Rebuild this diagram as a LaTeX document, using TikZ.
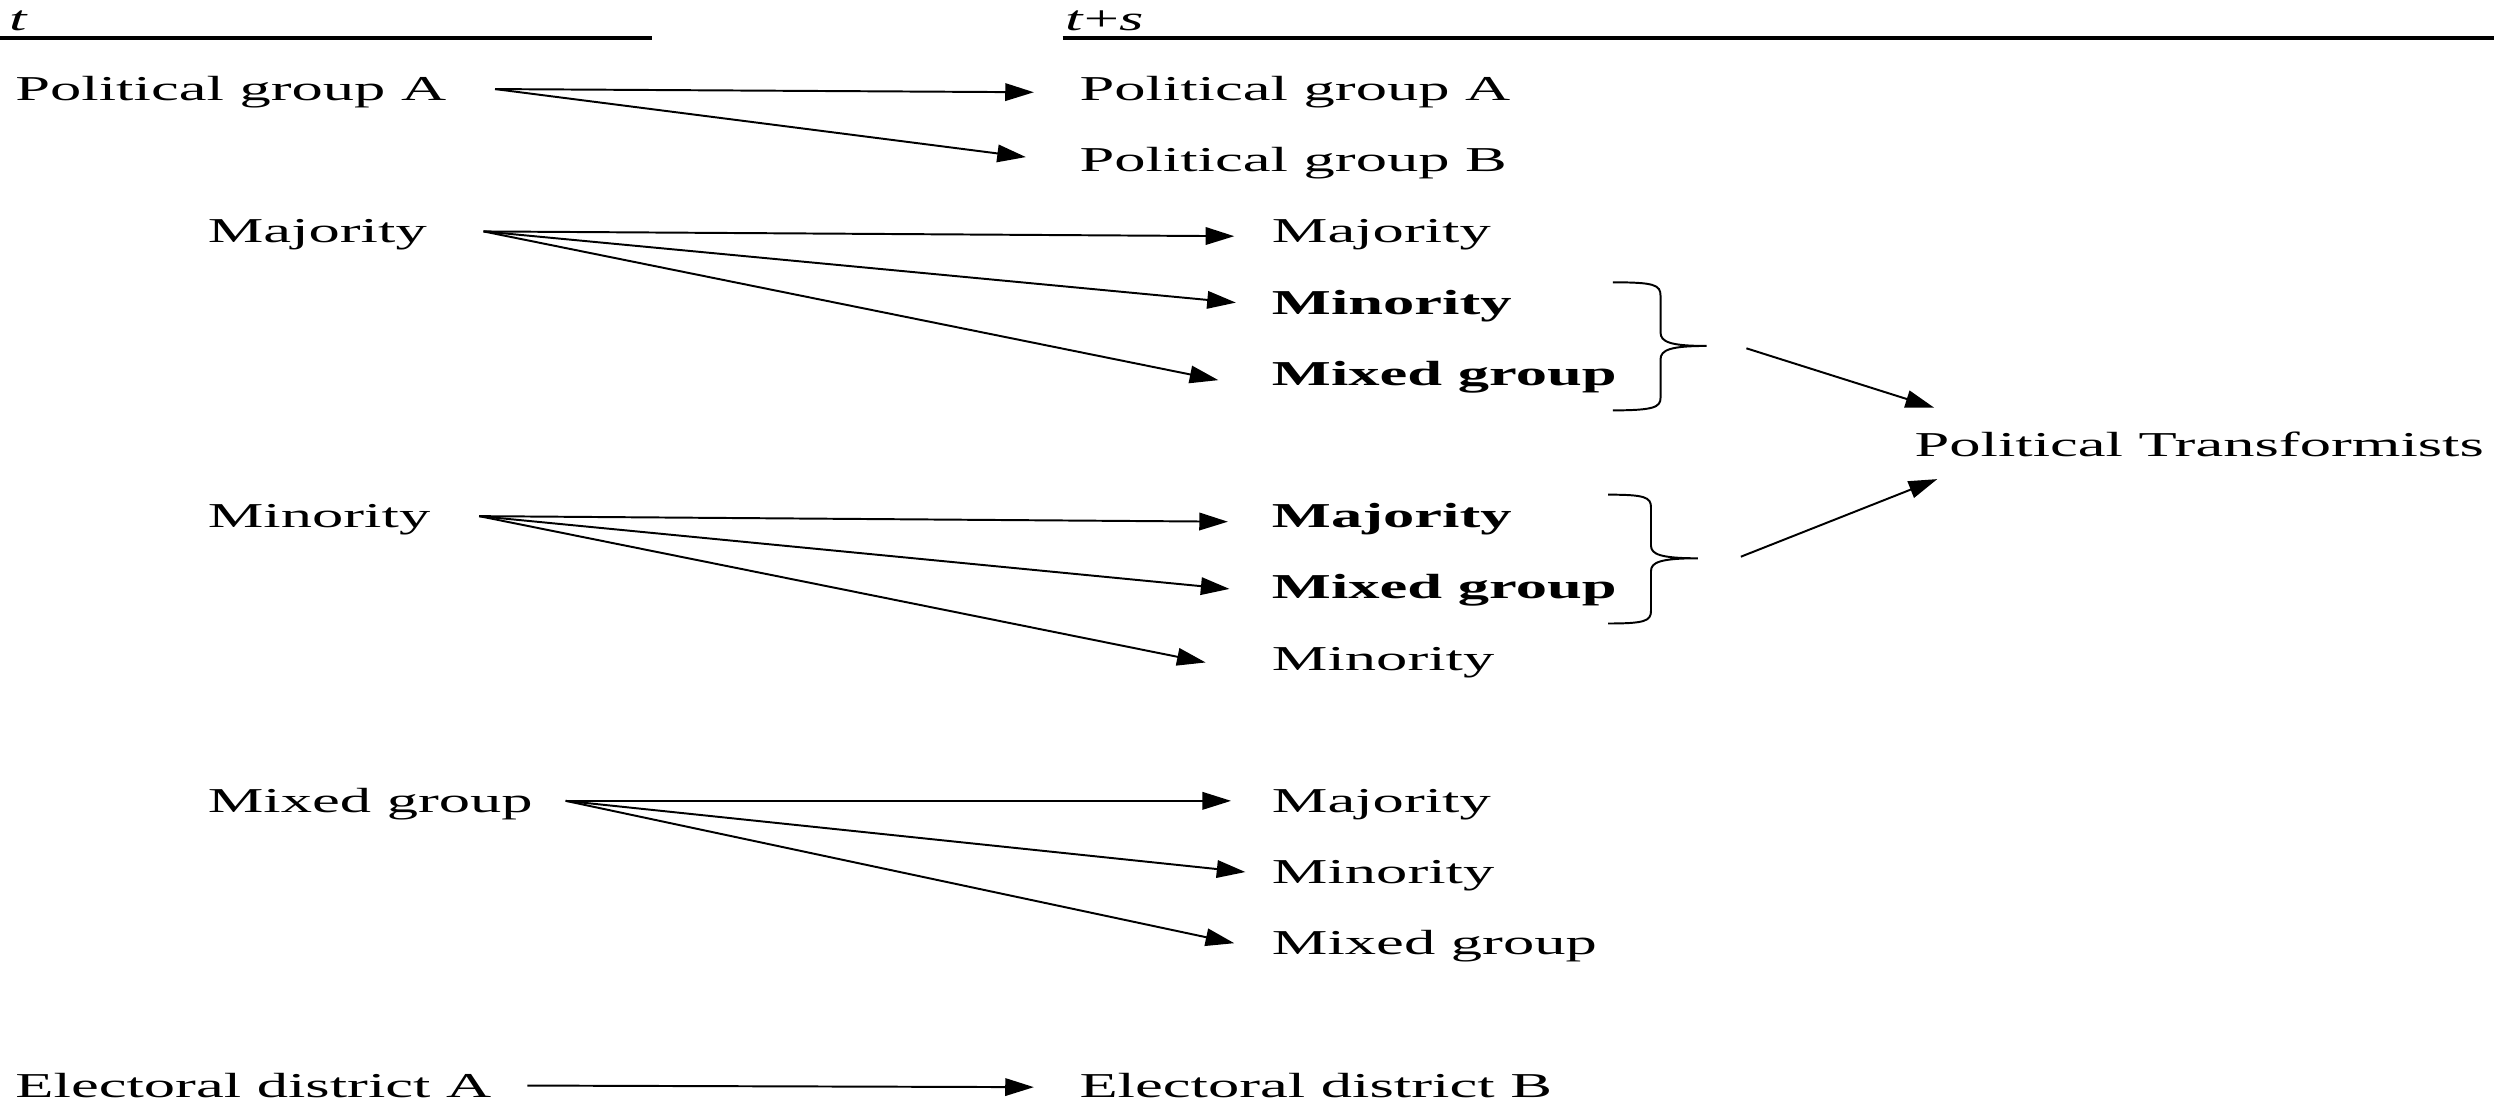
\documentclass[tikz,border=0pt]{standalone}
\usepackage{fontspec}
\setmainfont{Liberation Serif}[FakeStretch=1.79]
\usepackage{tikz}
\usetikzlibrary{arrows.meta}

\begin{document}
\begin{tikzpicture}[x=0.1mm, y=-0.1mm,
  lbl/.style={anchor=west, inner sep=0pt, text height=4.13pt, text depth=0pt,
    font=\fontsize{6.25pt}{7.5pt}\selectfont},
  hdr/.style={anchor=base west, inner sep=0pt, font=\fontsize{6.25pt}{7.5pt}\selectfont},
  arr/.style={-{Triangle[length=1.8mm, width=1.1mm]}, line width=0.35pt},
  brc/.style={line width=0.35pt},
  rul/.style={line width=0.6pt}]

\useasboundingbox (0,0) rectangle (1568,692);

% header %
\node[hdr] (tnow) at (5,19) {\textit{t}};
\node[hdr] (tlater) at (669,19) {\textit{t}+\textit{s}};
\draw[rul] (0,24) -- (410,24);
\draw[rul] (668,24) -- (1568,24);

% nodes %
\node[lbl] (pgaL) at (9,56) {Political group A};
\node[lbl] (pgaR) at (678,56) {Political group A};
\node[lbl] (pgbR) at (678,100.75) {Political group B};

\node[lbl] (majL) at (130,145.5) {Majority};
\node[lbl] (majA) at (799,145.5) {Majority};
\node[lbl] (minA) at (799,190.25) {\textbf{Minority}};
\node[lbl] (mixA) at (799,235) {\textbf{Mixed group}};

\node[lbl] (pt) at (1203,279.75) {Political Transformists};

\node[lbl] (minL) at (130,324.5) {Minority};
\node[lbl] (majB) at (799,324.5) {\textbf{Majority}};
\node[lbl] (mixB) at (799,369.25) {\textbf{Mixed group}};
\node[lbl] (minB) at (799,414) {Minority};

\node[lbl] (mixL) at (130,503.5) {Mixed group};
\node[lbl] (majC) at (799,503.5) {Majority};
\node[lbl] (minC) at (799,548.25) {Minority};
\node[lbl] (mixC) at (799,593) {Mixed group};

\node[lbl] (elA) at (9,682.5) {Electoral district A};
\node[lbl] (elB) at (678,682.5) {Electoral district B};

% edges %

%political group%
\draw[arr] ([xshift=3mm]pgaL.east) -- ([xshift=-2.8mm,yshift=-0.2mm]pgaR.west);
\draw[arr] ([xshift=3mm]pgaL.east) -- ([xshift=-3.3mm,yshift=0.2mm]pgbR.west);

%majority%
\draw[arr] ([xshift=3.5mm]majL.east) -- ([xshift=-2.3mm,yshift=-0.3mm]majA.west);
\draw[arr] ([xshift=3.5mm]majL.east) -- ([xshift=-2.2mm]minA.west);
\draw[arr] ([xshift=3.5mm]majL.east) -- ([xshift=-3.3mm,yshift=-0.4mm]mixA.west);

%minority%
\draw[arr] ([xshift=3mm]minL.east) -- ([xshift=-2.7mm,yshift=-0.35mm]majB.west);
\draw[arr] ([xshift=3mm]minL.east) -- ([xshift=-2.6mm,yshift=-0.1mm]mixB.west);
\draw[arr] ([xshift=3mm]minL.east) -- ([xshift=-4.1mm,yshift=-0.25mm]minB.west);

%mixed group%
\draw[arr] ([xshift=2mm]mixL.east) -- ([xshift=-2.5mm]majC.west);
\draw[arr] ([xshift=2mm]mixL.east) -- ([xshift=-1.6mm]minC.west);
\draw[arr] ([xshift=2mm]mixL.east) -- ([xshift=-2.3mm]mixC.west);

%electoral district%
\draw[arr] ([xshift=2.2mm]elA.east) -- ([xshift=-2.8mm,yshift=-0.1mm]elB.west);

% braces %
\draw[brc] (1014,177.5) .. controls (1040,177.5) and (1044,179) .. (1044,186)
  -- (1044,209) .. controls (1044,215) and (1050,217.5) .. (1073,217.5)
  .. controls (1050,217.5) and (1044,220) .. (1044,226)
  -- (1044,250) .. controls (1044,256) and (1040,258) .. (1014,258);
\draw[brc] (1011,311) .. controls (1034,311) and (1038,312.5) .. (1038,319)
  -- (1038,343) .. controls (1038,348.5) and (1044,351) .. (1067.5,351)
  .. controls (1044,351) and (1038,353.5) .. (1038,359)
  -- (1038,384) .. controls (1038,390.5) and (1034,392) .. (1011,392);

%transformists%
\coordinate (brA) at (1098,219);
\coordinate (brB) at (1094.5,350);
\draw[arr] (brA) -- ([xshift=1.3mm,yshift=1.55mm]pt.north west);
\draw[arr] (brB) -- ([xshift=1.5mm,yshift=-1.35mm]pt.south west);

\end{tikzpicture}
\end{document}
